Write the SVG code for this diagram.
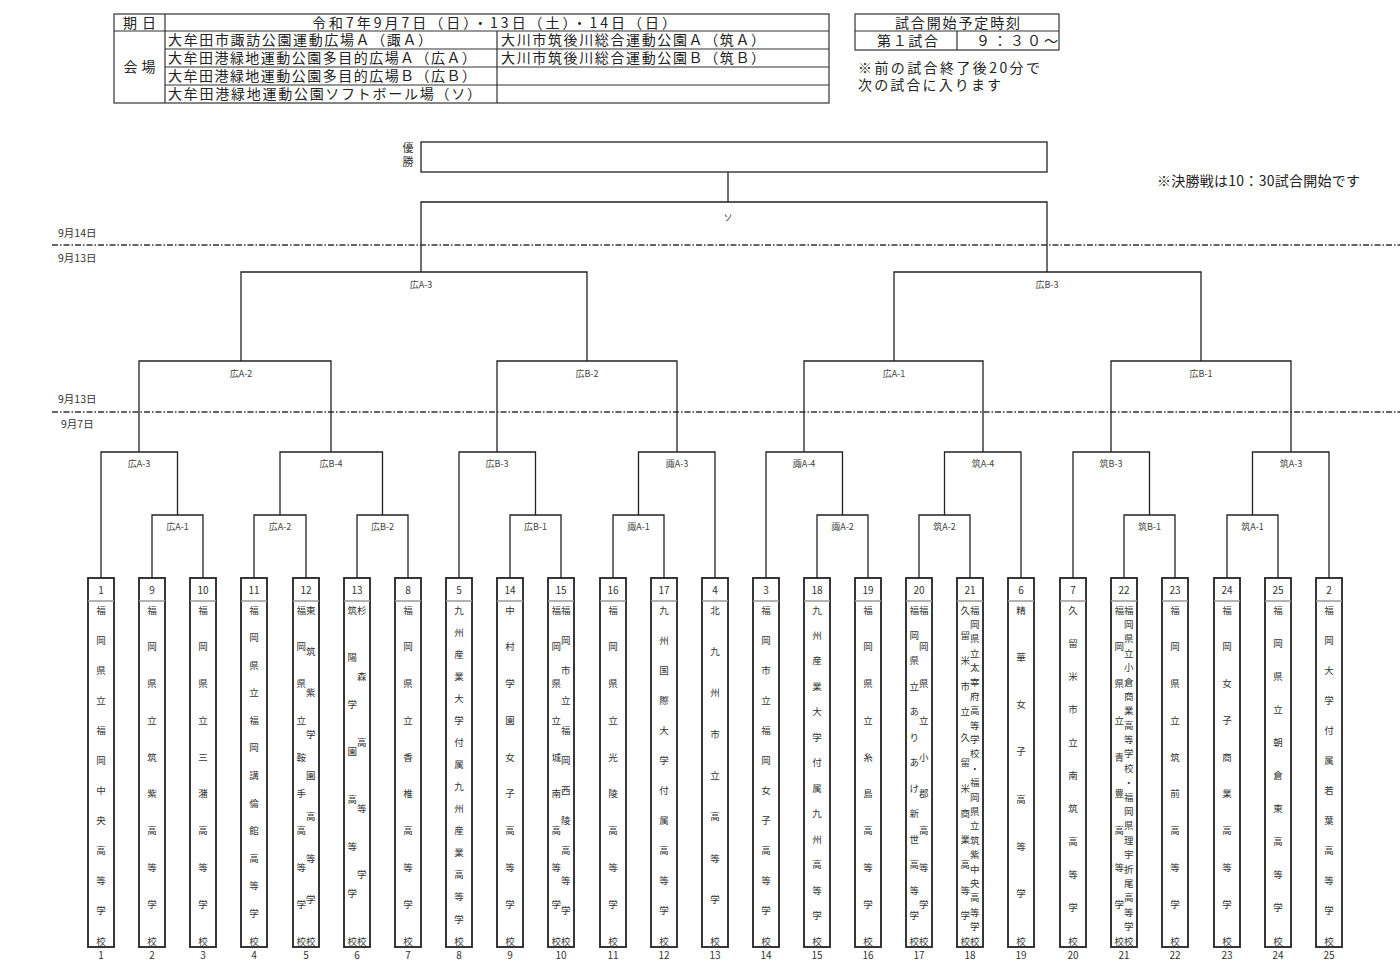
<svg xmlns="http://www.w3.org/2000/svg" width="1400" height="977" viewBox="0 0 1400 977" font-family="'Noto Sans CJK JP', 'Liberation Sans', sans-serif">
<style>
.tb{fill:none;stroke:#333;stroke-width:1.2}
.ht{font-size:14px;fill:#222}
.ln{fill:none;stroke:#222;stroke-width:1.3}
.box{fill:#fff;stroke:#222;stroke-width:1.8}
.sep{stroke:#999;stroke-width:1.5}
.tn{font-size:10px;text-anchor:middle;fill:#333}
.nm{font-size:9.5px;text-anchor:middle;fill:#333}
.lb{font-size:9px;text-anchor:middle;fill:#444}
.dt{font-size:10.5px;fill:#333}
.dash{stroke:#333;stroke-width:1.4;stroke-dasharray:6 2 1.5 2}
</style>
<rect width="1400" height="977" fill="#fff"/>

<g id="header-table">
<rect class="tb" x="114" y="14" width="715" height="89"/>
<path class="tb" d="M114 31H829M165 49H829M165 67H829M165 85H829M165 14V103M497 31V103"/>
<text class="ht" x="123" y="27.5" textLength="33" lengthAdjust="spacing">期日</text>
<text class="ht" x="312" y="27.5" textLength="364" lengthAdjust="spacing">令和7年9月7日（日）・13日（土）・14日（日）</text>
<text class="ht" x="123.5" y="72" textLength="32" lengthAdjust="spacing">会場</text>
<text class="ht" x="168" y="45" textLength="264" lengthAdjust="spacing">大牟田市諏訪公園運動広場Ａ（諏Ａ）</text>
<text class="ht" x="501" y="45" textLength="264" lengthAdjust="spacing">大川市筑後川総合運動公園Ａ（筑Ａ）</text>
<text class="ht" x="168" y="63" textLength="308" lengthAdjust="spacing">大牟田港緑地運動公園多目的広場Ａ（広Ａ）</text>
<text class="ht" x="501" y="63" textLength="264" lengthAdjust="spacing">大川市筑後川総合運動公園Ｂ（筑Ｂ）</text>
<text class="ht" x="168" y="81" textLength="308" lengthAdjust="spacing">大牟田港緑地運動公園多目的広場Ｂ（広Ｂ）</text>
<text class="ht" x="168" y="99" textLength="313" lengthAdjust="spacing">大牟田港緑地運動公園ソフトボール場（ソ）</text>
</g>

<g id="schedule-table">
<rect class="tb" x="855" y="14" width="204" height="36"/>
<path class="tb" d="M855 31H1059M957 31V50"/>
<text class="ht" x="895" y="27.5" textLength="125" lengthAdjust="spacing">試合開始予定時刻</text>
<text class="ht" x="877" y="45.5" textLength="61" lengthAdjust="spacing">第１試合</text>
<text class="ht" x="976" y="45.5" textLength="82" lengthAdjust="spacing">９：３０～</text>
</g>

<g id="notes">
<text x="858" y="73" font-size="14" fill="#222" textLength="182" lengthAdjust="spacing">※前の試合終了後20分で</text>
<text x="858" y="90" font-size="14" fill="#222" textLength="143" lengthAdjust="spacing">次の試合に入ります</text>
<text x="1157" y="186" font-size="14" fill="#222" textLength="203" lengthAdjust="spacing">※決勝戦は10：30試合開始です</text>
</g>

<g id="date-lines">
<line class="dash" x1="52" y1="245" x2="1400" y2="245"/>
<line class="dash" x1="52" y1="412" x2="1400" y2="412"/>
<text class="dt" x="58" y="237">9月14日</text>
<text class="dt" x="58" y="262">9月13日</text>
<text class="dt" x="58" y="402.5">9月13日</text>
<text class="dt" x="61" y="427.5">9月7日</text>
</g>

<g id="champion">
<rect x="421" y="142" width="626" height="30" fill="#fff" stroke="#222" stroke-width="1.3"/>
<text x="408" y="152" font-size="11" text-anchor="middle" fill="#333">優</text>
<text x="408" y="166" font-size="11" text-anchor="middle" fill="#333">勝</text>
</g>

<g id="connectors">
<path class="ln" d="M152 578V515H203V578M254 578V515H306V578M357 578V515H408V578M510 578V515H561V578M613 578V515H664V578M817 578V515H868V578M919 578V515H970V578M1124 578V515H1175V578M1227 578V515H1278V578"/>
<path class="ln" d="M101 578V452H177.5V515M280 515V452H382.5V515M459 578V452H535.5V515M638.5 515V452H715V578M766 578V452H842.5V515M944.5 515V452H1021V578M1073 578V452H1149.5V515M1252.5 515V452H1329V578"/>
<path class="ln" d="M139 452V361H331V452M497 452V361H677V452M804 452V361H983V452M1111 452V361H1291V452"/>
<path class="ln" d="M241 361V272H587V361M894 361V272H1201V361"/>
<path class="ln" d="M421 272V202H1047V272M728 202V172"/>
</g>

<g id="match-labels" class="lb">
<text x="177.5" y="530">広A-1</text>
<text x="280" y="530">広A-2</text>
<text x="382.5" y="530">広B-2</text>
<text x="535.5" y="530">広B-1</text>
<text x="638.5" y="530">諏A-1</text>
<text x="842.5" y="530">諏A-2</text>
<text x="944.5" y="530">筑A-2</text>
<text x="1149.5" y="530">筑B-1</text>
<text x="1252.5" y="530">筑A-1</text>
<text x="139" y="467">広A-3</text>
<text x="331" y="467">広B-4</text>
<text x="497" y="467">広B-3</text>
<text x="677" y="467">諏A-3</text>
<text x="804" y="467">諏A-4</text>
<text x="983" y="467">筑A-4</text>
<text x="1111" y="467">筑B-3</text>
<text x="1291" y="467">筑A-3</text>
<text x="241" y="376.5">広A-2</text>
<text x="587" y="376.5">広B-2</text>
<text x="894" y="376.5">広A-1</text>
<text x="1201" y="376.5">広B-1</text>
<text x="421" y="287.5">広A-3</text>
<text x="1047" y="287.5">広B-3</text>
<text x="728" y="220.5">ソ</text>
</g>

<g id="team-1">
<rect class="box" x="88" y="578" width="26" height="369"/><line class="sep" x1="88" y1="601" x2="114" y2="601"/>
<text class="tn" x="101" y="594">1</text>
<text class="nm" x="101 101 101 101 101 101 101 101 101 101 101 101" y="613.5 643.6 673.7 703.8 733.9 764 794 824.1 854.2 884.3 914.4 944.5">福岡県立福岡中央高等学校</text>
<text class="tn" x="101" y="959">1</text>
</g>
<g id="team-9">
<rect class="box" x="139" y="578" width="26" height="369"/><line class="sep" x1="139" y1="601" x2="165" y2="601"/>
<text class="tn" x="152" y="594">9</text>
<text class="nm" x="152 152 152 152 152 152 152 152 152 152" y="613.5 650.3 687.1 723.8 760.6 797.4 834.2 871 907.7 944.5">福岡県立筑紫高等学校</text>
<text class="tn" x="152" y="959">2</text>
</g>
<g id="team-10">
<rect class="box" x="190" y="578" width="26" height="369"/><line class="sep" x1="190" y1="601" x2="216" y2="601"/>
<text class="tn" x="203" y="594">10</text>
<text class="nm" x="203 203 203 203 203 203 203 203 203 203" y="613.5 650.3 687.1 723.8 760.6 797.4 834.2 871 907.7 944.5">福岡県立三潴高等学校</text>
<text class="tn" x="203" y="959">3</text>
</g>
<g id="team-11">
<rect class="box" x="241" y="578" width="26" height="369"/><line class="sep" x1="241" y1="601" x2="267" y2="601"/>
<text class="tn" x="254" y="594">11</text>
<text class="nm" x="254 254 254 254 254 254 254 254 254 254 254 254 254" y="613.5 641.1 668.7 696.3 723.8 751.4 779 806.6 834.2 861.8 889.3 916.9 944.5">福岡県立福岡講倫館高等学校</text>
<text class="tn" x="254" y="959">4</text>
</g>
<g id="team-12">
<rect class="box" x="293" y="578" width="26" height="369"/><line class="sep" x1="293" y1="601" x2="319" y2="601"/>
<text class="tn" x="306" y="594">12</text>
<text class="nm" x="301.2 301.2 301.2 301.2 301.2 301.2 301.2 301.2 301.2 301.2" y="613.5 650.3 687.1 723.8 760.6 797.4 834.2 871 907.7 944.5">福岡県立鞍手高等学校</text>
<text class="nm" x="310.8 310.8 310.8 310.8 310.8 310.8 310.8 310.8 310.8" y="613.5 654.9 696.3 737.6 779 820.4 861.8 903.1 944.5">東筑紫学園高等学校</text>
<text class="tn" x="306" y="959">5</text>
</g>
<g id="team-13">
<rect class="box" x="344" y="578" width="26" height="369"/><line class="sep" x1="344" y1="601" x2="370" y2="601"/>
<text class="tn" x="357" y="594">13</text>
<text class="nm" x="352.2 352.2 352.2 352.2 352.2 352.2 352.2 352.2" y="613.5 660.8 708.1 755.4 802.6 849.9 897.2 944.5">筑陽学園高等学校</text>
<text class="nm" x="361.8 361.8 361.8 361.8 361.8 361.8" y="613.5 679.7 745.9 812.1 878.3 944.5">杉森高等学校</text>
<text class="tn" x="357" y="959">6</text>
</g>
<g id="team-8">
<rect class="box" x="395" y="578" width="26" height="369"/><line class="sep" x1="395" y1="601" x2="421" y2="601"/>
<text class="tn" x="408" y="594">8</text>
<text class="nm" x="408 408 408 408 408 408 408 408 408 408" y="613.5 650.3 687.1 723.8 760.6 797.4 834.2 871 907.7 944.5">福岡県立香椎高等学校</text>
<text class="tn" x="408" y="959">7</text>
</g>
<g id="team-5">
<rect class="box" x="446" y="578" width="26" height="369"/><line class="sep" x1="446" y1="601" x2="472" y2="601"/>
<text class="tn" x="459" y="594">5</text>
<text class="nm" x="459 459 459 459 459 459 459 459 459 459 459 459 459 459 459 459" y="613.5 635.6 657.6 679.7 701.8 723.8 745.9 768 790.1 812.1 834.2 856.3 878.3 900.4 922.5 944.5">九州産業大学付属九州産業高等学校</text>
<text class="tn" x="459" y="959">8</text>
</g>
<g id="team-14">
<rect class="box" x="497" y="578" width="26" height="369"/><line class="sep" x1="497" y1="601" x2="523" y2="601"/>
<text class="tn" x="510" y="594">14</text>
<text class="nm" x="510 510 510 510 510 510 510 510 510 510" y="613.5 650.3 687.1 723.8 760.6 797.4 834.2 871 907.7 944.5">中村学園女子高等学校</text>
<text class="tn" x="510" y="959">9</text>
</g>
<g id="team-15">
<rect class="box" x="548" y="578" width="26" height="369"/><line class="sep" x1="548" y1="601" x2="574" y2="601"/>
<text class="tn" x="561" y="594">15</text>
<text class="nm" x="556.2 556.2 556.2 556.2 556.2 556.2 556.2 556.2 556.2 556.2" y="613.5 650.3 687.1 723.8 760.6 797.4 834.2 871 907.7 944.5">福岡県立城南高等学校</text>
<text class="nm" x="565.8 565.8 565.8 565.8 565.8 565.8 565.8 565.8 565.8 565.8 565.8 565.8" y="613.5 643.6 673.7 703.8 733.9 764 794 824.1 854.2 884.3 914.4 944.5">福岡市立福岡西陵高等学校</text>
<text class="tn" x="561" y="959">10</text>
</g>
<g id="team-16">
<rect class="box" x="600" y="578" width="26" height="369"/><line class="sep" x1="600" y1="601" x2="626" y2="601"/>
<text class="tn" x="613" y="594">16</text>
<text class="nm" x="613 613 613 613 613 613 613 613 613 613" y="613.5 650.3 687.1 723.8 760.6 797.4 834.2 871 907.7 944.5">福岡県立光陵高等学校</text>
<text class="tn" x="613" y="959">11</text>
</g>
<g id="team-17">
<rect class="box" x="651" y="578" width="26" height="369"/><line class="sep" x1="651" y1="601" x2="677" y2="601"/>
<text class="tn" x="664" y="594">17</text>
<text class="nm" x="664 664 664 664 664 664 664 664 664 664 664 664" y="613.5 643.6 673.7 703.8 733.9 764 794 824.1 854.2 884.3 914.4 944.5">九州国際大学付属高等学校</text>
<text class="tn" x="664" y="959">12</text>
</g>
<g id="team-4">
<rect class="box" x="702" y="578" width="26" height="369"/><line class="sep" x1="702" y1="601" x2="728" y2="601"/>
<text class="tn" x="715" y="594">4</text>
<text class="nm" x="715 715 715 715 715 715 715 715 715" y="613.5 654.9 696.3 737.6 779 820.4 861.8 903.1 944.5">北九州市立高等学校</text>
<text class="tn" x="715" y="959">13</text>
</g>
<g id="team-3">
<rect class="box" x="753" y="578" width="26" height="369"/><line class="sep" x1="753" y1="601" x2="779" y2="601"/>
<text class="tn" x="766" y="594">3</text>
<text class="nm" x="766 766 766 766 766 766 766 766 766 766 766 766" y="613.5 643.6 673.7 703.8 733.9 764 794 824.1 854.2 884.3 914.4 944.5">福岡市立福岡女子高等学校</text>
<text class="tn" x="766" y="959">14</text>
</g>
<g id="team-18">
<rect class="box" x="804" y="578" width="26" height="369"/><line class="sep" x1="804" y1="601" x2="830" y2="601"/>
<text class="tn" x="817" y="594">18</text>
<text class="nm" x="817 817 817 817 817 817 817 817 817 817 817 817 817 817" y="613.5 639 664.4 689.9 715.3 740.8 766.3 791.7 817.2 842.6 868.1 893.6 919 944.5">九州産業大学付属九州高等学校</text>
<text class="tn" x="817" y="959">15</text>
</g>
<g id="team-19">
<rect class="box" x="855" y="578" width="26" height="369"/><line class="sep" x1="855" y1="601" x2="881" y2="601"/>
<text class="tn" x="868" y="594">19</text>
<text class="nm" x="868 868 868 868 868 868 868 868 868 868" y="613.5 650.3 687.1 723.8 760.6 797.4 834.2 871 907.7 944.5">福岡県立糸島高等学校</text>
<text class="tn" x="868" y="959">16</text>
</g>
<g id="team-20">
<rect class="box" x="906" y="578" width="26" height="369"/><line class="sep" x1="906" y1="601" x2="932" y2="601"/>
<text class="tn" x="919" y="594">20</text>
<text class="nm" x="914.2 914.2 914.2 914.2 914.2 914.2 914.2 914.2 914.2 914.2 914.2 914.2 914.2 914.2" y="613.5 639 664.4 689.9 715.3 740.8 766.3 791.7 817.2 842.6 868.1 893.6 919 944.5">福岡県立ありあけ新世高等学校</text>
<text class="nm" x="923.8 923.8 923.8 923.8 923.8 923.8 923.8 923.8 923.8 923.8" y="613.5 650.3 687.1 723.8 760.6 797.4 834.2 871 907.7 944.5">福岡県立小郡高等学校</text>
<text class="tn" x="919" y="959">17</text>
</g>
<g id="team-21">
<rect class="box" x="957" y="578" width="26" height="369"/><line class="sep" x1="957" y1="601" x2="983" y2="601"/>
<text class="tn" x="970" y="594">21</text>
<text class="nm" x="965.2 965.2 965.2 965.2 965.2 965.2 965.2 965.2 965.2 965.2 965.2 965.2 965.2 965.2" y="613.5 639 664.4 689.9 715.3 740.8 766.3 791.7 817.2 842.6 868.1 893.6 919 944.5">久留米市立久留米商業高等学校</text>
<text class="nm" x="974.8 974.8 974.8 974.8 974.8 974.8 974.8 974.8 974.8 974.8 974.8 974.8 974.8 974.8 974.8 974.8 974.8 974.8 974.8 974.8 974.8 974.8 974.8 974.8" y="613.5 627.9 642.3 656.7 671.1 685.5 699.8 714.2 728.6 743 757.4 771.8 786.2 800.6 815 829.4 843.8 858.2 872.5 886.9 901.3 915.7 930.1 944.5">福岡県立太宰府高等学校・福岡県立筑紫中央高等学校</text>
<text class="tn" x="970" y="959">18</text>
</g>
<g id="team-6">
<rect class="box" x="1008" y="578" width="26" height="369"/><line class="sep" x1="1008" y1="601" x2="1034" y2="601"/>
<text class="tn" x="1021" y="594">6</text>
<text class="nm" x="1021 1021 1021 1021 1021 1021 1021 1021" y="613.5 660.8 708.1 755.4 802.6 849.9 897.2 944.5">精華女子高等学校</text>
<text class="tn" x="1021" y="959">19</text>
</g>
<g id="team-7">
<rect class="box" x="1060" y="578" width="26" height="369"/><line class="sep" x1="1060" y1="601" x2="1086" y2="601"/>
<text class="tn" x="1073" y="594">7</text>
<text class="nm" x="1073 1073 1073 1073 1073 1073 1073 1073 1073 1073 1073" y="613.5 646.6 679.7 712.8 745.9 779 812.1 845.2 878.3 911.4 944.5">久留米市立南筑高等学校</text>
<text class="tn" x="1073" y="959">20</text>
</g>
<g id="team-22">
<rect class="box" x="1111" y="578" width="26" height="369"/><line class="sep" x1="1111" y1="601" x2="1137" y2="601"/>
<text class="tn" x="1124" y="594">22</text>
<text class="nm" x="1119.2 1119.2 1119.2 1119.2 1119.2 1119.2 1119.2 1119.2 1119.2 1119.2" y="613.5 650.3 687.1 723.8 760.6 797.4 834.2 871 907.7 944.5">福岡県立青豊高等学校</text>
<text class="nm" x="1128.8 1128.8 1128.8 1128.8 1128.8 1128.8 1128.8 1128.8 1128.8 1128.8 1128.8 1128.8 1128.8 1128.8 1128.8 1128.8 1128.8 1128.8 1128.8 1128.8 1128.8 1128.8 1128.8 1128.8" y="613.5 627.9 642.3 656.7 671.1 685.5 699.8 714.2 728.6 743 757.4 771.8 786.2 800.6 815 829.4 843.8 858.2 872.5 886.9 901.3 915.7 930.1 944.5">福岡県立小倉商業高等学校・福岡県理宇折尾高等学校</text>
<text class="tn" x="1124" y="959">21</text>
</g>
<g id="team-23">
<rect class="box" x="1162" y="578" width="26" height="369"/><line class="sep" x1="1162" y1="601" x2="1188" y2="601"/>
<text class="tn" x="1175" y="594">23</text>
<text class="nm" x="1175 1175 1175 1175 1175 1175 1175 1175 1175 1175" y="613.5 650.3 687.1 723.8 760.6 797.4 834.2 871 907.7 944.5">福岡県立筑前高等学校</text>
<text class="tn" x="1175" y="959">22</text>
</g>
<g id="team-24">
<rect class="box" x="1214" y="578" width="26" height="369"/><line class="sep" x1="1214" y1="601" x2="1240" y2="601"/>
<text class="tn" x="1227" y="594">24</text>
<text class="nm" x="1227 1227 1227 1227 1227 1227 1227 1227 1227 1227" y="613.5 650.3 687.1 723.8 760.6 797.4 834.2 871 907.7 944.5">福岡女子商業高等学校</text>
<text class="tn" x="1227" y="959">23</text>
</g>
<g id="team-25">
<rect class="box" x="1265" y="578" width="26" height="369"/><line class="sep" x1="1265" y1="601" x2="1291" y2="601"/>
<text class="tn" x="1278" y="594">25</text>
<text class="nm" x="1278 1278 1278 1278 1278 1278 1278 1278 1278 1278 1278" y="613.5 646.6 679.7 712.8 745.9 779 812.1 845.2 878.3 911.4 944.5">福岡県立朝倉東高等学校</text>
<text class="tn" x="1278" y="959">24</text>
</g>
<g id="team-2">
<rect class="box" x="1316" y="578" width="26" height="369"/><line class="sep" x1="1316" y1="601" x2="1342" y2="601"/>
<text class="tn" x="1329" y="594">2</text>
<text class="nm" x="1329 1329 1329 1329 1329 1329 1329 1329 1329 1329 1329 1329" y="613.5 643.6 673.7 703.8 733.9 764 794 824.1 854.2 884.3 914.4 944.5">福岡大学付属若葉高等学校</text>
<text class="tn" x="1329" y="959">25</text>
</g>
</svg>
